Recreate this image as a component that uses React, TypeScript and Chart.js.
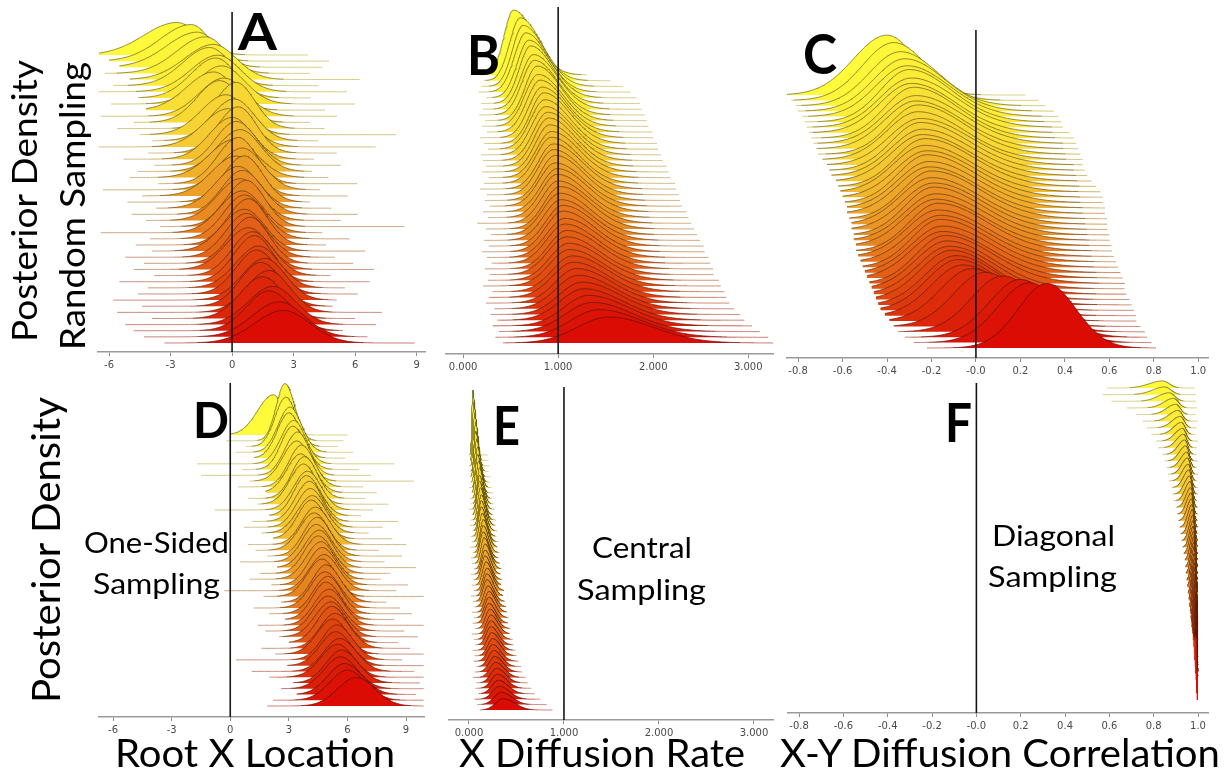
import React, { useEffect, useRef } from "react";
import { Chart, registerables } from "chart.js";

Chart.register(...registerables);

// ---------------- axis ticks / true values ----------------
const ticksRoot = [-6, -3, 0, 3, 6, 9];
const tickLabelsRoot = ["-6", "-3", "0", "3", "6", "9"];
const ticksRate = [0, 1, 2, 3];
const tickLabelsRate = ["0.000", "1.000", "2.000", "3.000"];
const ticksCorr = [-0.8, -0.6, -0.4, -0.2, 0, 0.2, 0.4, 0.6, 0.8, 1.0];
const tickLabelsCorr = ["-0.8", "-0.6", "-0.4", "-0.2", "-0.0", "0.2", "0.4", "0.6", "0.8", "1.0"];
const truthRoot = 0;
const truthRate = 1;
const truthCorr = 0;

// ---------------- Panel A: Root X Location, random sampling (top ridge first) ----------------
const modeA = [-2.7, -2.0, -1.7, -1.3, -0.9, -1.1, -0.7, -0.8, -0.5, -0.9, -0.4, -0.6, 0.2, -0.3, 0.1, -0.2, 0.3, 0.0, 0.2, 0.4, 0.1, 0.3, 0.5, 0.2, 0.6, 0.3, 0.5, 0.4, 0.7, 0.5, 0.6, 0.8, 0.6, 0.7, 0.9, 0.8, 1.0, 1.1, 1.3, 1.2, 1.6, 1.4, 1.8, 1.5, 2.0, 1.8, 2.3, 2.5];
const sdLeftA = [1.6, 1.5, 1.5, 1.4, 1.4, 1.3, 1.3, 1.2, 1.2, 1.3, 1.2, 1.1, 1.0, 1.2, 1.1, 1.2, 1.0, 1.1, 1.0, 1.1, 1.2, 1.0, 1.1, 1.2, 1.0, 1.1, 1.0, 1.1, 1.0, 1.1, 1.0, 1.0, 1.1, 1.0, 1.0, 1.1, 1.0, 1.0, 1.1, 1.0, 1.1, 1.0, 1.1, 1.1, 1.2, 1.1, 1.3, 1.4];
const sdRightA = [1.1, 0.9, 1.0, 1.0, 1.1, 1.0, 1.1, 1.0, 1.1, 1.0, 1.1, 1.0, 0.9, 1.0, 1.0, 1.1, 0.9, 1.0, 1.0, 1.0, 1.1, 0.9, 1.0, 1.0, 0.9, 1.0, 1.0, 1.0, 0.9, 1.0, 1.0, 0.9, 1.0, 1.0, 0.9, 1.0, 1.0, 0.9, 1.0, 1.0, 1.0, 1.0, 1.0, 1.0, 1.1, 1.1, 1.2, 1.3];
const lowA = [-6.5, -6.0, -5.5, -6.2, -5.0, -5.8, -6.5, -4.6, -5.9, -4.2, -6.4, -4.8, -5.6, -4.5, -3.9, -6.5, -4.1, -5.3, -3.8, -4.6, -5.0, -3.6, -6.3, -4.4, -5.1, -3.7, -4.9, -4.2, -3.5, -6.4, -4.0, -4.7, -3.9, -5.2, -4.3, -4.8, -3.8, -5.5, -4.1, -4.6, -5.8, -4.4, -5.6, -3.9, -5.2, -4.8, -4.3, -3.3];
const highA = [3.7, 4.8, 4.4, 3.8, 6.3, 4.2, 5.6, 3.9, 6.0, 4.6, 5.2, 3.8, 4.5, 8.0, 4.2, 7.0, 5.1, 4.0, 5.3, 3.9, 4.7, 6.1, 4.3, 5.7, 3.8, 4.9, 6.2, 5.3, 8.4, 4.4, 5.8, 4.6, 6.5, 5.0, 5.9, 7.0, 4.8, 6.8, 5.5, 6.2, 5.1, 4.9, 7.3, 6.0, 7.1, 5.4, 6.6, 8.9];

// ---------------- Panel B: X Diffusion Rate, random sampling ----------------
const modeB = [0.53, 0.60, 0.63, 0.66, 0.69, 0.71, 0.74, 0.75, 0.78, 0.79, 0.81, 0.83, 0.85, 0.86, 0.87, 0.89, 0.90, 0.91, 0.93, 0.93, 0.95, 0.95, 0.97, 0.97, 0.99, 0.99, 1.00, 1.02, 1.02, 1.03, 1.05, 1.05, 1.07, 1.07, 1.09, 1.09, 1.11, 1.12, 1.15, 1.16, 1.19, 1.21, 1.25, 1.27, 1.32, 1.36, 1.43, 1.53];
const sdLeftB = [0.10, 0.11, 0.11, 0.12, 0.12, 0.12, 0.13, 0.13, 0.13, 0.14, 0.14, 0.14, 0.14, 0.15, 0.15, 0.15, 0.15, 0.15, 0.16, 0.16, 0.16, 0.16, 0.16, 0.17, 0.17, 0.17, 0.17, 0.17, 0.18, 0.18, 0.18, 0.18, 0.19, 0.19, 0.19, 0.20, 0.20, 0.21, 0.21, 0.22, 0.22, 0.23, 0.24, 0.25, 0.26, 0.28, 0.30, 0.33];
const sdRightB = [0.22, 0.22, 0.23, 0.23, 0.24, 0.24, 0.25, 0.25, 0.25, 0.26, 0.26, 0.27, 0.27, 0.27, 0.28, 0.28, 0.28, 0.29, 0.29, 0.29, 0.30, 0.30, 0.30, 0.31, 0.31, 0.31, 0.32, 0.32, 0.32, 0.33, 0.33, 0.33, 0.34, 0.34, 0.35, 0.35, 0.36, 0.36, 0.37, 0.37, 0.38, 0.39, 0.40, 0.41, 0.42, 0.43, 0.45, 0.47];
const lowB = [0.18, 0.22, 0.20, 0.16, 0.24, 0.19, 0.21, 0.17, 0.23, 0.20, 0.25, 0.18, 0.22, 0.26, 0.19, 0.21, 0.24, 0.20, 0.27, 0.22, 0.18, 0.25, 0.23, 0.28, 0.21, 0.26, 0.15, 0.24, 0.29, 0.22, 0.27, 0.20, 0.25, 0.30, 0.23, 0.28, 0.26, 0.21, 0.31, 0.27, 0.24, 0.33, 0.29, 0.36, 0.31, 0.38, 0.34, 0.42];
const highB = [1.30, 1.55, 1.68, 1.76, 1.82, 1.86, 1.88, 1.91, 1.93, 1.95, 1.99, 2.00, 2.04, 2.05, 2.08, 2.10, 2.14, 2.16, 2.18, 2.23, 2.24, 2.27, 2.28, 2.31, 2.35, 2.37, 2.40, 2.44, 2.46, 2.49, 2.53, 2.54, 2.58, 2.60, 2.63, 2.65, 2.69, 2.71, 2.75, 2.77, 2.82, 2.85, 2.91, 2.96, 3.04, 3.12, 3.21, 3.26];

// ---------------- Panel C: X-Y Diffusion Correlation, random sampling ----------------
const modeC = [-0.40, -0.37, -0.34, -0.32, -0.31, -0.30, -0.29, -0.29, -0.28, -0.27, -0.27, -0.26, -0.26, -0.25, -0.25, -0.24, -0.24, -0.23, -0.23, -0.22, -0.22, -0.21, -0.21, -0.20, -0.20, -0.19, -0.19, -0.18, -0.18, -0.17, -0.17, -0.16, -0.16, -0.15, -0.15, -0.14, -0.13, -0.12, -0.11, -0.09, -0.08, -0.06, -0.02, 0.04, 0.12, 0.20, 0.24, 0.32];
const sdLeftC = [0.15, 0.14, 0.14, 0.14, 0.14, 0.13, 0.14, 0.14, 0.13, 0.14, 0.14, 0.13, 0.14, 0.14, 0.13, 0.14, 0.14, 0.13, 0.14, 0.14, 0.13, 0.14, 0.14, 0.13, 0.14, 0.14, 0.13, 0.14, 0.14, 0.13, 0.14, 0.14, 0.13, 0.14, 0.14, 0.13, 0.14, 0.14, 0.14, 0.14, 0.14, 0.14, 0.14, 0.14, 0.14, 0.14, 0.14, 0.13];
const sdRightC = [0.13, 0.15, 0.17, 0.18, 0.19, 0.19, 0.20, 0.20, 0.20, 0.21, 0.21, 0.21, 0.21, 0.22, 0.22, 0.22, 0.22, 0.22, 0.22, 0.22, 0.22, 0.22, 0.22, 0.22, 0.22, 0.22, 0.22, 0.22, 0.22, 0.22, 0.22, 0.22, 0.22, 0.22, 0.22, 0.22, 0.21, 0.21, 0.20, 0.20, 0.19, 0.19, 0.18, 0.17, 0.16, 0.15, 0.14, 0.13];
const lowC = [-0.85, -0.83, -0.81, -0.80, -0.78, -0.77, -0.76, -0.75, -0.74, -0.73, -0.72, -0.71, -0.69, -0.67, -0.66, -0.65, -0.63, -0.62, -0.61, -0.60, -0.59, -0.58, -0.58, -0.57, -0.56, -0.56, -0.55, -0.55, -0.54, -0.54, -0.53, -0.52, -0.51, -0.50, -0.49, -0.48, -0.47, -0.46, -0.45, -0.44, -0.43, -0.41, -0.39, -0.37, -0.35, -0.32, -0.28, -0.22];
const highC = [0.23, 0.28, 0.32, 0.35, 0.37, 0.39, 0.40, 0.42, 0.44, 0.45, 0.46, 0.47, 0.48, 0.48, 0.49, 0.50, 0.52, 0.54, 0.56, 0.57, 0.57, 0.58, 0.58, 0.59, 0.59, 0.60, 0.60, 0.61, 0.61, 0.62, 0.62, 0.63, 0.64, 0.65, 0.66, 0.67, 0.67, 0.68, 0.69, 0.70, 0.71, 0.72, 0.73, 0.74, 0.76, 0.77, 0.79, 0.81];

// ---------------- Panel D: Root X Location, one-sided sampling ----------------
const modeD = [2.2, 2.8, 2.85, 3.05, 3.0, 3.25, 3.2, 3.45, 3.4, 3.65, 3.6, 3.8, 3.75, 3.95, 3.9, 4.05, 4.1, 4.2, 4.15, 4.35, 4.3, 4.45, 4.4, 4.55, 4.5, 4.65, 4.7, 4.8, 4.7, 4.9, 4.85, 5.0, 4.9, 5.05, 5.0, 5.15, 5.2, 5.35, 5.25, 5.45, 5.4, 5.6, 5.5, 5.7, 5.65, 5.85, 6.0, 6.45];
const sdLeftD = [0.8, 0.45, 0.55, 0.6, 0.6, 0.65, 0.6, 0.65, 0.7, 0.65, 0.7, 0.65, 0.7, 0.7, 0.65, 0.7, 0.7, 0.75, 0.7, 0.7, 0.75, 0.7, 0.7, 0.75, 0.7, 0.75, 0.7, 0.75, 0.75, 0.7, 0.75, 0.75, 0.7, 0.75, 0.75, 0.8, 0.75, 0.75, 0.8, 0.75, 0.8, 0.8, 0.85, 0.8, 0.85, 0.85, 0.9, 0.95];
const sdRightD = [0.55, 0.5, 0.55, 0.6, 0.6, 0.6, 0.65, 0.6, 0.65, 0.65, 0.7, 0.65, 0.65, 0.7, 0.7, 0.65, 0.7, 0.7, 0.7, 0.75, 0.7, 0.7, 0.75, 0.7, 0.75, 0.7, 0.75, 0.75, 0.7, 0.75, 0.75, 0.7, 0.75, 0.75, 0.8, 0.75, 0.75, 0.8, 0.75, 0.8, 0.8, 0.85, 0.8, 0.85, 0.85, 0.9, 0.9, 0.95];
const lowD = [0.0, -0.2, 0.8, 0.3, 1.2, -1.7, 0.6, -1.5, 1.0, 0.4, 1.8, 0.9, 1.4, -0.8, 2.0, 1.1, 0.7, 1.6, 2.2, 0.9, 1.3, 1.9, 0.5, 2.4, 1.5, 1.0, 2.1, -0.3, 1.7, 2.6, 1.2, 2.0, 2.8, 1.4, 1.8, 2.5, 3.0, 1.6, 2.3, 0.3, 2.9, 1.1, 2.0, 3.2, 2.6, 3.4, 2.2, 1.9];
const highD = [6.0, 5.8, 5.5, 6.3, 5.9, 8.4, 6.6, 7.2, 9.4, 6.8, 7.5, 6.9, 8.1, 7.3, 6.7, 8.6, 7.8, 7.1, 8.3, 9.0, 7.6, 8.8, 7.9, 9.5, 8.2, 7.7, 9.1, 8.5, 9.9, 8.0, 8.7, 9.3, 8.4, 9.9, 8.9, 9.6, 8.6, 9.2, 9.9, 8.8, 9.9, 9.4, 9.9, 9.7, 9.9, 9.5, 9.9, 9.9];

// ---------------- Panel E: X Diffusion Rate, central sampling ----------------
const modeE = [0.04, 0.05, 0.06, 0.07, 0.07, 0.08, 0.09, 0.09, 0.10, 0.11, 0.11, 0.11, 0.12, 0.13, 0.13, 0.13, 0.14, 0.15, 0.15, 0.15, 0.16, 0.17, 0.17, 0.17, 0.18, 0.19, 0.19, 0.19, 0.20, 0.21, 0.21, 0.21, 0.22, 0.23, 0.23, 0.23, 0.24, 0.25, 0.25, 0.26, 0.27, 0.28, 0.29, 0.30, 0.31, 0.32, 0.34, 0.36];
const sdLeftE = [0.010, 0.012, 0.014, 0.015, 0.017, 0.018, 0.019, 0.021, 0.021, 0.022, 0.024, 0.024, 0.025, 0.027, 0.027, 0.028, 0.030, 0.030, 0.031, 0.033, 0.033, 0.034, 0.036, 0.036, 0.037, 0.039, 0.039, 0.040, 0.042, 0.042, 0.043, 0.045, 0.045, 0.046, 0.048, 0.048, 0.050, 0.052, 0.054, 0.056, 0.058, 0.060, 0.062, 0.065, 0.068, 0.071, 0.075, 0.080];
const sdRightE = [0.025, 0.027, 0.029, 0.031, 0.033, 0.035, 0.037, 0.038, 0.040, 0.041, 0.043, 0.044, 0.045, 0.047, 0.048, 0.049, 0.050, 0.052, 0.053, 0.054, 0.055, 0.057, 0.058, 0.059, 0.060, 0.062, 0.063, 0.064, 0.066, 0.067, 0.068, 0.070, 0.071, 0.073, 0.074, 0.076, 0.078, 0.080, 0.082, 0.084, 0.087, 0.090, 0.093, 0.096, 0.100, 0.105, 0.110, 0.120];
const lowE = [0.00, 0.01, 0.00, 0.01, 0.01, 0.02, 0.00, 0.03, 0.01, 0.02, 0.00, 0.03, 0.02, 0.01, 0.04, 0.02, 0.03, 0.01, 0.04, 0.02, 0.03, 0.05, 0.02, 0.04, 0.03, 0.05, 0.02, 0.04, 0.06, 0.03, 0.05, 0.04, 0.06, 0.03, 0.05, 0.07, 0.04, 0.06, 0.05, 0.08, 0.06, 0.04, 0.08, 0.07, 0.10, 0.06, 0.09, 0.12];
const highE = [0.20, 0.21, 0.22, 0.21, 0.23, 0.22, 0.24, 0.26, 0.24, 0.26, 0.27, 0.26, 0.29, 0.28, 0.30, 0.29, 0.31, 0.30, 0.32, 0.31, 0.33, 0.34, 0.33, 0.35, 0.34, 0.37, 0.36, 0.38, 0.39, 0.40, 0.42, 0.41, 0.44, 0.43, 0.46, 0.47, 0.49, 0.50, 0.52, 0.55, 0.56, 0.60, 0.62, 0.66, 0.69, 0.75, 0.82, 0.88];

// ---------------- Panel F: X-Y Diffusion Correlation, diagonal sampling ----------------
const modeF = [0.84, 0.85, 0.87, 0.89, 0.90, 0.91, 0.92, 0.925, 0.93, 0.935, 0.94, 0.945, 0.95, 0.953, 0.956, 0.959, 0.962, 0.965, 0.967, 0.969, 0.971, 0.973, 0.975, 0.977, 0.978, 0.979, 0.980, 0.981, 0.982, 0.983, 0.984, 0.985, 0.986, 0.987, 0.988, 0.989, 0.990, 0.990, 0.991, 0.992, 0.992, 0.993, 0.993, 0.994, 0.994, 0.995, 0.995, 0.996];
const sdLeftF = [0.06, 0.055, 0.05, 0.045, 0.042, 0.04, 0.038, 0.036, 0.034, 0.032, 0.030, 0.029, 0.028, 0.027, 0.026, 0.025, 0.024, 0.023, 0.022, 0.021, 0.020, 0.019, 0.018, 0.017, 0.016, 0.016, 0.015, 0.014, 0.014, 0.013, 0.013, 0.012, 0.012, 0.011, 0.011, 0.010, 0.010, 0.009, 0.009, 0.008, 0.008, 0.008, 0.007, 0.007, 0.007, 0.006, 0.006, 0.006];
const sdRightF = [0.03, 0.028, 0.025, 0.022, 0.02, 0.019, 0.018, 0.017, 0.016, 0.015, 0.014, 0.013, 0.013, 0.012, 0.012, 0.011, 0.011, 0.010, 0.010, 0.009, 0.009, 0.009, 0.008, 0.008, 0.008, 0.007, 0.007, 0.007, 0.006, 0.006, 0.006, 0.006, 0.005, 0.005, 0.005, 0.005, 0.004, 0.004, 0.004, 0.004, 0.004, 0.003, 0.003, 0.003, 0.003, 0.003, 0.003, 0.003];
const lowF = [0.59, 0.57, 0.61, 0.68, 0.72, 0.75, 0.77, 0.79, 0.81, 0.82, 0.84, 0.85, 0.86, 0.865, 0.87, 0.88, 0.885, 0.89, 0.90, 0.905, 0.91, 0.915, 0.92, 0.925, 0.93, 0.935, 0.94, 0.942, 0.945, 0.948, 0.951, 0.954, 0.957, 0.96, 0.963, 0.966, 0.969, 0.972, 0.975, 0.978, 0.98, 0.982, 0.984, 0.986, 0.988, 0.99, 0.991, 0.993];
const highF = [0.985, 0.99, 0.99, 0.995, 0.99, 1.0, 0.995, 0.99, 1.0, 0.995, 0.995, 1.0, 0.995, 1.0, 0.995, 1.0, 1.0, 0.995, 1.0, 1.0, 0.998, 1.0, 0.997, 1.0, 0.999, 1.0, 0.998, 1.0, 1.0, 0.999, 1.0, 1.0, 0.999, 1.0, 1.0, 1.0, 0.999, 1.0, 1.0, 1.0, 1.0, 1.0, 1.0, 1.0, 1.0, 1.0, 1.0, 1.0];

// ---------------- layout of the six panels (pixels) ----------------
type PanelSpec = {
  mode: number[]; sdL: number[]; sdR: number[]; lo: number[]; hi: number[];
  ticks: number[]; labels: string[]; truth: number;
  xMin: number; xMax: number; left: number; right: number; top: number; axisY: number;
  baseTop: number; baseBottom: number; lineTop: number; k: number;
};

const PANELS: PanelSpec[] = [
  { mode: modeA, sdL: sdLeftA, sdR: sdRightA, lo: lowA, hi: highA, ticks: ticksRoot, labels: tickLabelsRoot, truth: truthRoot,
    xMin: -6.54, xMax: 9.41, left: 98, right: 425, top: 0, axisY: 352, baseTop: 55, baseBottom: 343, lineTop: 12, k: 110 },
  { mode: modeB, sdL: sdLeftB, sdR: sdRightB, lo: lowB, hi: highB, ticks: ticksRate, labels: tickLabelsRate, truth: truthRate,
    xMin: -0.18, xMax: 3.26, left: 446, right: 773, top: 0, axisY: 354, baseTop: 75, baseBottom: 343, lineTop: 7, k: 26 },
  { mode: modeC, sdL: sdLeftC, sdR: sdRightC, lo: lowC, hi: highC, ticks: ticksCorr, labels: tickLabelsCorr, truth: truthCorr,
    xMin: -0.85, xMax: 1.044, left: 787, right: 1208, top: 0, axisY: 358, baseTop: 95, baseBottom: 348, lineTop: 30, k: 21 },
  { mode: modeD, sdL: sdLeftD, sdR: sdRightD, lo: lowD, hi: highD, ticks: ticksRoot, labels: tickLabelsRoot, truth: truthRoot,
    xMin: -6.72, xMax: 9.92, left: 99, right: 424, top: 376, axisY: 717, baseTop: 435, baseBottom: 706, lineTop: 383, k: 68 },
  { mode: modeE, sdL: sdLeftE, sdR: sdRightE, lo: lowE, hi: highE, ticks: ticksRate, labels: tickLabelsRate, truth: truthRate,
    xMin: -0.21, xMax: 3.2, left: 449, right: 773, top: 376, axisY: 720, baseTop: 455, baseBottom: 710, lineTop: 387, k: 2.85 },
  { mode: modeF, sdL: sdLeftF, sdR: sdRightF, lo: lowF, hi: highF, ticks: ticksCorr, labels: tickLabelsCorr, truth: truthCorr,
    xMin: -0.85, xMax: 1.045, left: 788, right: 1208, top: 376, axisY: 713, baseTop: 388, baseBottom: 700, lineTop: 383, k: 0.8 },
];

// ---------------- colours ----------------
const STOPS: [number, number[]][] = [
  [0, [255, 250, 58]],
  [0.3, [246, 208, 50]],
  [0.55, [234, 145, 35]],
  [0.8, [224, 72, 16]],
  [1, [218, 12, 4]],
];
function ridgeRGB(t: number): number[] {
  for (let i = 1; i < STOPS.length; i++) {
    if (t <= STOPS[i][0]) {
      const [t0, c0] = STOPS[i - 1];
      const [t1, c1] = STOPS[i];
      const f = (t - t0) / (t1 - t0);
      return c0.map((v, j) => v + (c1[j] - v) * f);
    }
  }
  return STOPS[STOPS.length - 1][1];
}
function mix(a: number[], b: number[], f: number) {
  return a.map((v, i) => Math.round(v * (1 - f) + b[i] * f));
}
const rgba = (c: number[], a = 1) => `rgba(${c[0]},${c[1]},${c[2]},${a})`;

function makeConfig(p: PanelSpec): any {
  const n = p.mode.length;
  const H = p.axisY - p.top;
  const datasets: any[] = [
    {
      data: [{ x: p.truth, y: 0 }, { x: p.truth, y: p.axisY - p.lineTop }],
      borderColor: "#161616",
      borderWidth: 1.6,
      pointRadius: 0,
      fill: false,
    },
  ];
  for (let i = n - 1; i >= 0; i--) {
    const t = i / (n - 1);
    const basePx = p.baseTop + (p.baseBottom - p.baseTop) * t;
    const base = p.axisY - basePx;
    const m = p.mode[i], sl = p.sdL[i], sr = p.sdR[i], lo = p.lo[i], hi = p.hi[i];
    const peak = 2 / (Math.sqrt(2 * Math.PI) * (sl + sr));
    const xs: number[] = [];
    for (let j = 0; j <= 140; j++) xs.push(lo + ((hi - lo) * j) / 140);
    for (let q = -44; q <= 44; q++) xs.push(m + q * 0.1 * (q < 0 ? sl : sr));
    const sorted = Array.from(new Set(xs)).filter((x) => x >= lo && x <= hi).sort((a, b) => a - b);
    const data = sorted.map((x) => {
      const s = x < m ? sl : sr;
      const z = (x - m) / s;
      return { x, y: base + p.k * peak * Math.exp(-0.5 * z * z) };
    });
    const fillC = ridgeRGB(t);
    const stroke = rgba(mix(fillC, [30, 20, 10], 0.66), 0.9);
    const baseCol = rgba(mix(fillC, [140, 128, 118], 0.5), 0.9);
    datasets.push({
      data,
      borderColor: stroke,
      borderWidth: 0.8,
      backgroundColor: rgba(fillC, 1),
      fill: { value: base },
      pointRadius: 0,
      tension: 0,
      segment: {
        borderColor: (ctx: any) => {
          const a = data[ctx.p0DataIndex].y - base;
          const b = data[ctx.p1DataIndex].y - base;
          return a < 0.35 && b < 0.35 ? baseCol : stroke;
        },
      },
    });
  }
  return {
    type: "line",
    data: { datasets },
    options: {
      responsive: false,
      animation: false,
      devicePixelRatio: 1,
      events: [],
      layout: { padding: { left: 20, right: 20, top: 0, bottom: 0 } },
      plugins: {
        legend: { display: false },
        tooltip: { enabled: false },
        filler: { drawTime: "beforeDatasetDraw", propagate: false },
      },
      elements: { point: { radius: 0 }, line: { borderJoinStyle: "round" } },
      scales: {
        x: {
          type: "linear",
          min: p.xMin,
          max: p.xMax,
          afterBuildTicks: (s: any) => {
            s.ticks = p.ticks.map((v) => ({ value: v }));
          },
          afterFit: (s: any) => {
            s.height = 28;
          },
          ticks: {
            autoSkip: false,
            maxRotation: 0,
            padding: 3,
            color: "#4a4a4a",
            font: { family: "DejaVu Sans", size: 10 },
            callback: (v: number) => {
              const idx = p.ticks.findIndex((tv) => Math.abs(tv - v) < 1e-9);
              return idx >= 0 ? p.labels[idx] : "";
            },
          },
          grid: { display: true, drawOnChartArea: false, drawTicks: true, tickLength: 4, color: "#8a8a8a", lineWidth: 1 },
          border: { display: true, color: "#9a9a9a", width: 1.5 },
        },
        y: { type: "linear", display: false, min: 0, max: H },
      },
    },
  };
}

function RidgePanel({ p }: { p: PanelSpec }) {
  const ref = useRef<HTMLCanvasElement>(null);
  useEffect(() => {
    if (!ref.current) return;
    const chart = new Chart(ref.current, makeConfig(p));
    return () => chart.destroy();
  }, [p]);
  const w = p.right - p.left + 40;
  const h = p.axisY - p.top + 28;
  return (
    <canvas
      ref={ref}
      width={w}
      height={h}
      style={{ position: "absolute", left: p.left - 20, top: p.top, width: w, height: h }}
    />
  );
}

const FONT = "Lato, 'Open Sans', 'DejaVu Sans', sans-serif";

export default function App() {
  const t = (props: any, s: string) => (
    <text fontFamily={FONT} fill="#000" lengthAdjust="spacingAndGlyphs" {...props}>
      {s}
    </text>
  );
  return (
    <div style={{ position: "fixed", left: 0, top: 0, width: 1231, height: 773, background: "#fff", overflow: "hidden" }}>
      {PANELS.map((p, i) => (
        <RidgePanel key={i} p={p} />
      ))}
      <svg width={1231} height={773} style={{ position: "absolute", left: 0, top: 0, pointerEvents: "none" }}>
        {t({ x: 0, y: 0, transform: "translate(37,342) rotate(-90)", fontSize: 35, textLength: 282 }, "Posterior Density")}
        {t({ x: 0, y: 0, transform: "translate(85,350) rotate(-90)", fontSize: 35, textLength: 288 }, "Random Sampling")}
        {t({ x: 0, y: 0, transform: "translate(60,703) rotate(-90)", fontSize: 38, textLength: 306 }, "Posterior Density")}
        {t({ x: 115, y: 767, fontSize: 38, textLength: 280 }, "Root X Location")}
        {t({ x: 459, y: 767, fontSize: 38, textLength: 286 }, "X Diffusion Rate")}
        {t({ x: 780, y: 767, fontSize: 38, textLength: 440 }, "X-Y Diffusion Correlation")}
        {t({ x: 84, y: 553, fontSize: 28, textLength: 145 }, "One-Sided")}
        {t({ x: 93, y: 594, fontSize: 28, textLength: 127 }, "Sampling")}
        {t({ x: 592, y: 558, fontSize: 28, textLength: 100 }, "Central")}
        {t({ x: 577, y: 600, fontSize: 28, textLength: 129 }, "Sampling")}
        {t({ x: 992, y: 546, fontSize: 28, textLength: 123 }, "Diagonal")}
        {t({ x: 988, y: 587, fontSize: 28, textLength: 129 }, "Sampling")}
        {t({ x: 238, y: 50, fontSize: 52, fontWeight: 700, textLength: 39 }, "A")}
        {t({ x: 467, y: 75, fontSize: 55, fontWeight: 700, textLength: 33 }, "B")}
        {t({ x: 803, y: 74, fontSize: 55, fontWeight: 700, textLength: 34 }, "C")}
        {t({ x: 193, y: 438, fontSize: 50, fontWeight: 700, textLength: 36 }, "D")}
        {t({ x: 493, y: 445, fontSize: 53, fontWeight: 700, textLength: 27 }, "E")}
        {t({ x: 945, y: 442, fontSize: 54, fontWeight: 700, textLength: 27 }, "F")}
      </svg>
    </div>
  );
}
